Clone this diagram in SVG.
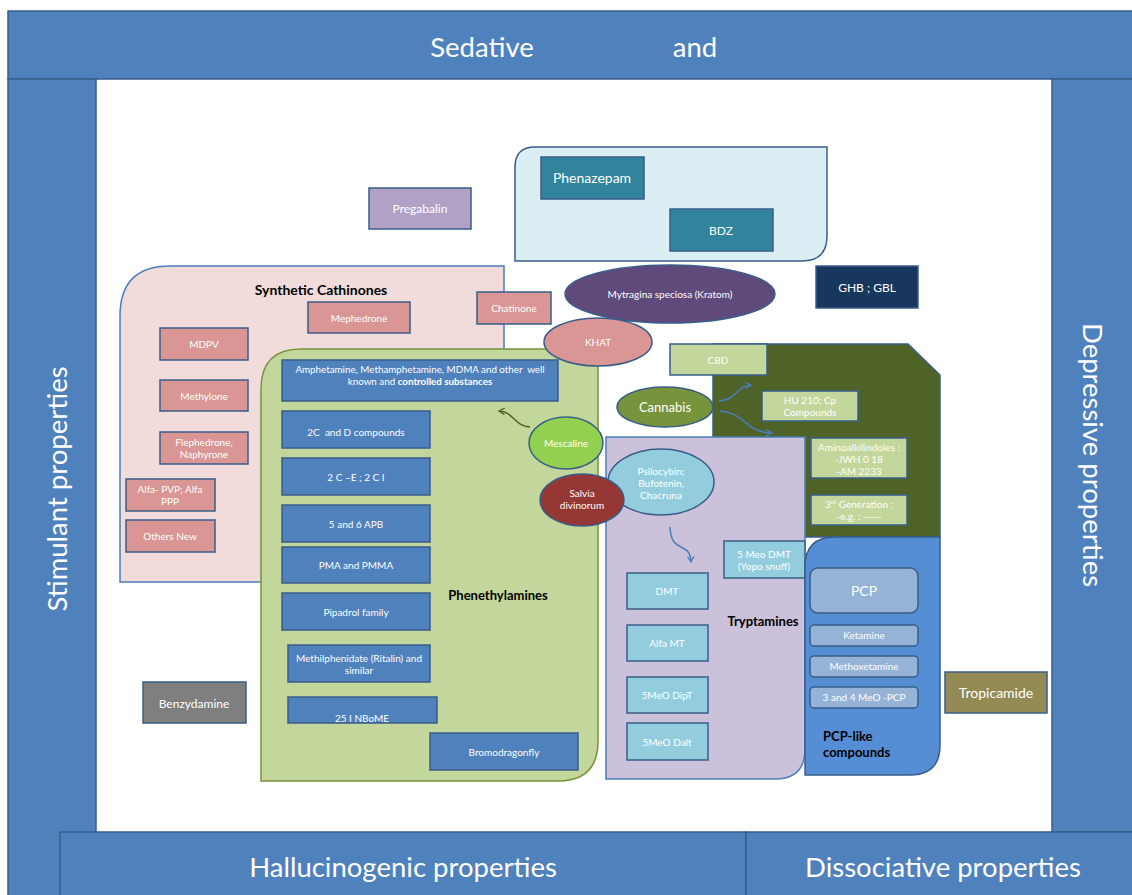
<svg xmlns="http://www.w3.org/2000/svg" width="1132" height="895" viewBox="0 0 1132 895">
<defs>
<style>
text{font-family:Lato,"Open Sans","Liberation Sans",sans-serif;}
.band{fill:#4F81BD;stroke:#385D8A;stroke-width:1.5;}
.bt{fill:#fff;font-size:27.5px;text-anchor:middle;}
.box{stroke:#385D8A;stroke-width:1.5;}
.w{fill:#fff;font-size:10px;text-anchor:middle;}
.w14{fill:#fff;font-size:14px;text-anchor:middle;}
.ttl{fill:#000;font-size:13px;font-weight:bold;}
.pink{fill:#D99694;}
.blue{fill:#4F81BD;}
.teal{fill:#31849B;}
.lg{fill:#C3D69B;}
.cy{fill:#93CDDD;}
.pcp{fill:#95B3D7;}
.arr{fill:none;stroke-width:1.5;}
</style>
<marker id="ab" viewBox="0 0 10 10" refX="8" refY="5" markerWidth="8" markerHeight="8" orient="auto" markerUnits="userSpaceOnUse">
<path d="M1,1 L8,5 L1,9" fill="none" stroke="#4A7EBB" stroke-width="1.6"/>
</marker>
<marker id="ag" viewBox="0 0 10 10" refX="8" refY="5" markerWidth="8" markerHeight="8" orient="auto" markerUnits="userSpaceOnUse">
<path d="M1,1 L8,5 L1,9" fill="none" stroke="#4F6228" stroke-width="1.6"/>
</marker>
</defs>
<rect width="1132" height="895" fill="#fff"/>

<g id="frame">
<rect class="band" x="8" y="11" width="1130" height="68"/>
<rect class="band" x="8" y="79" width="88" height="820"/>
<rect class="band" x="1052" y="79" width="86" height="753"/>
<rect class="band" x="60" y="832" width="686" height="70"/>
<rect class="band" x="746" y="832" width="392" height="70"/>
<text class="bt" x="482" y="57">Sedative</text>
<text class="bt" x="695" y="57">and</text>
<text class="bt" transform="translate(67,489) rotate(-90)">Stimulant properties</text>
<text class="bt" transform="translate(1083,455) rotate(90)">Depressive properties</text>
<text class="bt" x="403" y="877">Hallucinogenic properties</text>
<text class="bt" x="943" y="877">Dissociative properties</text>
</g>

<g id="sedative-group">
<path d="M535,147 H827 V236 Q827,261 802,261 H515 V167 Q515,147 535,147 Z" fill="#DAEEF3" stroke="#385D8A" stroke-width="1.5"/>
</g>
<g id="phenazepam"><rect class="box teal" x="541" y="157" width="103" height="42"/><text class="w14" x="592" y="183">Phenazepam</text></g>
<g id="bdz"><rect class="box teal" x="670" y="209" width="103" height="42"/><text class="w" style="font-size:12px" x="721" y="235">BDZ</text></g>
<g id="pregabalin"><rect class="box" fill="#B2A1C7" x="369" y="188" width="102" height="41"/><text class="w" style="font-size:12px" x="420" y="213">Pregabalin</text></g>
<g id="ghb"><rect class="box" fill="#17375E" x="816" y="266" width="102" height="42"/><text class="w" style="font-size:12px" x="867" y="292">GHB ; GBL</text></g>

<g id="synthetic-cathinones">
<path d="M170,266 H504 V582 H120 V316 Q120,266 170,266 Z" fill="#F2DCDB" stroke="#4A7EBB" stroke-width="1.5"/>
<text class="ttl" style="font-size:14px" x="321" y="295" text-anchor="middle">Synthetic Cathinones</text>
</g>
<g id="mephedrone"><rect class="box pink" x="308" y="302" width="102" height="31"/><text class="w" x="359" y="322">Mephedrone</text></g>
<g id="mdpv"><rect class="box pink" x="160" y="328" width="88" height="32"/><text class="w" x="204" y="348">MDPV</text></g>
<g id="methylone"><rect class="box pink" x="160" y="380" width="88" height="31"/><text class="w" x="204" y="400">Methylone</text></g>
<g id="flephedrone"><rect class="box pink" x="160" y="432" width="88" height="32"/><text class="w" x="204" y="446">Flephedrone,</text><text class="w" x="204" y="458">Naphyrone</text></g>
<g id="alfapvp"><rect class="box pink" x="126" y="479" width="89" height="32"/><text class="w" x="170" y="493">Alfa- PVP; Alfa</text><text class="w" x="170" y="505">PPP</text></g>
<g id="othersnew"><rect class="box pink" x="126" y="520" width="89" height="32"/><text class="w" x="170" y="540">Others New</text></g>
<g id="chatinone"><rect class="box pink" x="477" y="292" width="74" height="32"/><text class="w" x="514" y="312">Chatinone</text></g>

<g id="cannabis-group">
<path d="M713,344 H908 L940,375 V537 H713 Z" fill="#4F6228" stroke="#385D8A" stroke-width="1.5"/>
</g>
<g id="cbd"><rect class="box lg" x="670" y="344" width="97" height="31"/><text class="w" x="718" y="364">CBD</text></g>
<g id="hu210"><rect class="box lg" x="762" y="391" width="96" height="30"/><text class="w" x="810" y="404">HU 210; Cp</text><text class="w" x="810" y="416">Compounds</text></g>
<g id="aminoalkilindoles"><rect class="box lg" x="811" y="438" width="96" height="40"/><text class="w" x="859" y="451">Aminoalkilindoles :</text><text class="w" x="859" y="463">-JWH 0 18</text><text class="w" x="859" y="475">-AM 2233</text></g>
<g id="thirdgen"><rect class="box lg" x="811" y="495" width="96" height="30"/><text class="w" x="859" y="508">3<tspan font-size="6" dy="-4">rd</tspan><tspan dy="4"> Generation :</tspan></text><text class="w" x="859" y="520">-e.g. : -----</text></g>

<g id="phenethylamines">
<path d="M301,349 H598 V741 Q598,781 558,781 H261 V389 Q261,349 301,349 Z" fill="#C3D69B" stroke="#77933C" stroke-width="1.5"/>
<text class="ttl" x="498" y="600" text-anchor="middle">Phenethylamines</text>
</g>
<g id="amphetamine"><rect class="box blue" x="282" y="360" width="276" height="41"/><text class="w" style="font-size:9.8px" x="420" y="373" xml:space="preserve">Amphetamine, Methamphetamine, MDMA and other  well</text><text class="w" style="font-size:9.8px" x="420" y="385">known and <tspan font-weight="bold">controlled substances</tspan></text></g>
<g id="twoc"><rect class="box blue" x="282" y="411" width="148" height="37"/><text class="w" x="356" y="436" xml:space="preserve">2C  and D compounds</text></g>
<g id="twoce"><rect class="box blue" x="282" y="458" width="148" height="37"/><text class="w" x="356" y="481">2 C –E ; 2 C I</text></g>
<g id="apb"><rect class="box blue" x="282" y="505" width="148" height="37"/><text class="w" x="356" y="528">5 and 6 APB</text></g>
<g id="pma"><rect class="box blue" x="282" y="547" width="148" height="36"/><text class="w" x="356" y="569">PMA and PMMA</text></g>
<g id="pipadrol"><rect class="box blue" x="282" y="593" width="148" height="37"/><text class="w" x="356" y="616">Pipadrol family</text></g>
<g id="methilphenidate"><rect class="box blue" x="288" y="645" width="142" height="37"/><text class="w" x="359" y="662">Methilphenidate (Ritalin) and</text><text class="w" x="359" y="674">similar</text></g>
<g id="nbome"><rect class="box blue" x="288" y="697" width="149" height="26"/><text class="w" x="362" y="722">25 I NBoME</text></g>
<g id="bromodragonfly"><rect class="box blue" x="430" y="733" width="148" height="37"/><text class="w" x="504" y="756">Bromodragonfly</text></g>

<g id="tryptamines">
<path d="M606,437 H805 V749 Q805,779 775,779 H606 Z" fill="#CCC1DA" stroke="#4A7EBB" stroke-width="1.5"/>
<text class="ttl" x="763" y="626" text-anchor="middle">Tryptamines</text>
</g>
<g id="fivemeodmt"><rect class="box cy" x="724" y="541" width="81" height="37"/><text class="w" x="764" y="558">5 Meo DMT</text><text class="w" x="764" y="570">(Yopo snuff)</text></g>
<g id="dmt"><rect class="box cy" x="627" y="573" width="81" height="36"/><text class="w" x="667" y="595">DMT</text></g>
<g id="alfamt"><rect class="box cy" x="627" y="625" width="81" height="36"/><text class="w" x="667" y="647">Alfa MT</text></g>
<g id="dipt"><rect class="box cy" x="627" y="677" width="81" height="36"/><text class="w" x="667" y="699">5MeO DipT</text></g>
<g id="dalt"><rect class="box cy" x="627" y="723" width="81" height="37"/><text class="w" x="667" y="746">5MeO Dalt</text></g>

<g id="pcp-group">
<path d="M835,537 H940 V745 Q940,775 910,775 H805 V567 Q805,537 835,537 Z" fill="#558ED5" stroke="#385D8A" stroke-width="1.5"/>
<text class="ttl" x="823" y="741">PCP-like</text>
<text class="ttl" x="823" y="757">compounds</text>
</g>
<g id="pcp"><rect class="box pcp" x="810" y="568" width="108" height="45" rx="8"/><text class="w14" x="864" y="596">PCP</text></g>
<g id="ketamine"><rect class="box pcp" x="810" y="625" width="108" height="21" rx="4"/><text class="w" x="864" y="639">Ketamine</text></g>
<g id="methoxetamine"><rect class="box pcp" x="810" y="656" width="108" height="21" rx="4"/><text class="w" x="864" y="670">Methoxetamine</text></g>
<g id="meopcp"><rect class="box pcp" x="810" y="687" width="108" height="21" rx="4"/><text class="w" x="864" y="701">3 and 4 MeO -PCP</text></g>

<g id="kratom"><ellipse class="box" fill="#604A7B" cx="670" cy="294" rx="105" ry="29"/><text class="w" x="670" y="298">Mytragina speciosa (Kratom)</text></g>
<g id="khat"><ellipse class="box pink" cx="598" cy="342" rx="54" ry="24"/><text class="w" x="598" y="346">KHAT</text></g>
<g id="cannabis"><ellipse class="box" fill="#77933C" cx="665" cy="407" rx="48" ry="20"/><text class="w" style="font-size:13px" x="665" y="412">Cannabis</text></g>
<g id="mescaline"><ellipse class="box" fill="#92D050" cx="566" cy="443" rx="37" ry="26"/><text class="w" x="566" y="447">Mescaline</text></g>
<g id="psilocybin"><ellipse class="box cy" cx="661" cy="482" rx="53" ry="33"/><text class="w" x="661" y="475">Psilocybin;</text><text class="w" x="661" y="487">Bufotenin,</text><text class="w" x="661" y="499">Chacruna</text></g>
<g id="salvia"><ellipse class="box" fill="#953735" cx="582" cy="500" rx="42" ry="26"/><text class="w" x="582" y="497">Salvia</text><text class="w" x="582" y="509">divinorum</text></g>

<g id="benzydamine"><rect class="box" fill="#7F7F7F" x="143" y="682" width="103" height="41"/><text class="w" style="font-size:12px" x="194" y="708">Benzydamine</text></g>
<g id="tropicamide"><rect class="box" fill="#948A54" x="945" y="672" width="102" height="41"/><text class="w14" x="996" y="698">Tropicamide</text></g>

<g id="connectors">
<path class="arr" stroke="#4F6228" d="M530,427 C514,426 514,412 499,411" marker-end="url(#ag)"/>
<path class="arr" stroke="#4A7EBB" d="M719,401 C737,400 736,386 751,385" marker-end="url(#ab)"/>
<path class="arr" stroke="#4A7EBB" d="M720,411 C746,413 744,432 772,433" marker-end="url(#ab)"/>
<path class="arr" stroke="#4A7EBB" d="M670,527 C671,555 690,540 691,562" marker-end="url(#ab)"/>
</g>
</svg>
